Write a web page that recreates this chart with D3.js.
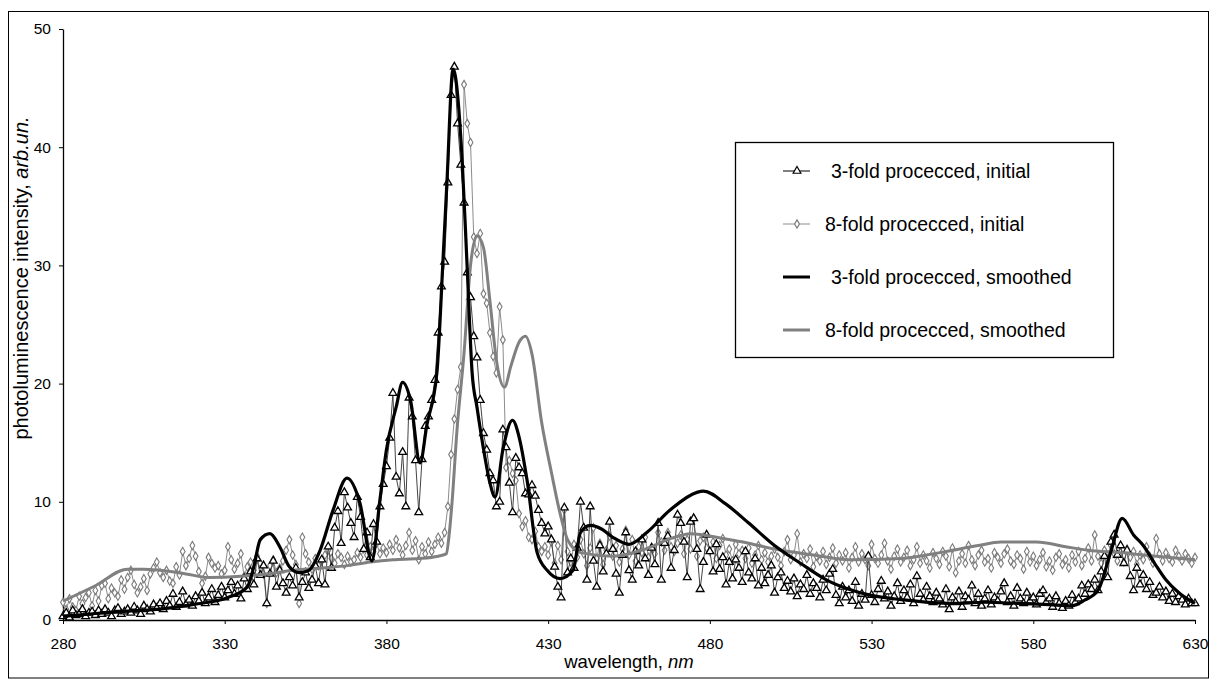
<!DOCTYPE html>
<html>
<head>
<meta charset="utf-8">
<script src="https://cdn.jsdelivr.net/npm/d3@7"></script>
<style>
  body { margin: 0; background: #fff; }
  svg { display: block; font-family: "Liberation Sans", Arial, sans-serif; }
</style>
</head>
<body>
<svg id="chart" width="1210" height="679"></svg>
<script>
// sampling of the raw spectra: one point per nm
const initStart = 280;
const initStep = 1;

// 3-fold processed, initial (280..630 nm)
const threeInitial = [
  0.3, 0.6, 0.2, 0.8, 0.4, 0.5, 0.9, 0.3, 0.6, 0.7,
  0.4, 0.8, 0.5, 0.9, 0.6, 0.3, 0.8, 1.0, 0.5, 0.7,
  0.9, 0.6, 1.1, 0.8, 0.5, 1.2, 0.9, 0.7, 1.3, 1.0,
  1.4, 0.9, 1.6, 1.2, 2.2, 1.1, 1.5, 2.4, 1.3, 1.7,
  1.2, 2.0, 1.6, 2.3, 1.4, 1.9, 2.6, 1.5, 2.1, 2.8,
  1.9, 2.5, 3.2, 2.2, 2.9, 1.8, 3.5, 2.6, 4.1, 3.0,
  5.2, 3.8, 4.6, 1.4, 3.9, 5.0, 2.8, 4.2, 3.1, 2.3,
  3.6, 2.9, 4.4, 1.9, 3.2, 4.0, 2.7, 3.4, 4.6, 3.1,
  5.1, 3.0, 6.2, 4.4, 7.8, 9.2, 6.5, 10.8, 9.5, 8.2,
  7.0, 10.4, 8.7, 6.0, 7.4, 5.3, 8.1, 6.6, 9.6, 11.5,
  13.0, 15.4, 19.2, 12.1, 10.7, 14.2, 9.6, 18.8, 17.2, 13.5,
  9.1, 13.6, 16.4, 17.2, 18.6, 20.3, 24.3, 28.2, 30.3, 37.0,
  44.4, 46.8, 42.0, 38.5, 35.3, 29.4, 27.3, 24.0, 22.2, 18.6,
  15.8, 14.4, 12.4, 11.8, 9.6, 10.0, 16.1, 14.6, 11.6, 9.1,
  13.7, 12.9, 12.4, 10.7, 10.6, 11.4, 10.5, 9.3, 8.2, 7.3,
  7.9, 6.8, 4.5, 2.8, 1.9, 9.5, 4.0, 5.2, 4.4, 6.1,
  10.0, 7.8, 3.4, 9.6, 5.0, 2.8, 6.3, 4.1, 5.6, 8.3,
  6.0, 3.9, 2.3, 5.5, 7.4, 4.2, 3.4, 5.8, 4.6, 6.8,
  5.2, 3.8, 6.1, 4.7, 8.2, 3.4, 6.5, 7.1, 4.4, 5.9,
  8.9, 8.2, 6.6, 3.6, 8.3, 8.6, 6.0, 2.6, 4.9, 7.2,
  5.8, 4.1, 6.4, 4.3, 5.3, 3.0, 4.9, 3.5, 5.1, 4.4,
  3.2, 5.8, 4.0, 3.5, 5.2, 2.9, 4.4, 3.1, 3.8, 4.6,
  2.3, 3.6, 4.0, 2.7, 3.3, 2.4, 3.5, 2.0, 3.0, 2.6,
  3.8, 2.2, 3.1, 2.7, 1.9, 3.4, 2.5, 3.9, 4.3, 2.1,
  1.4, 2.8, 1.9, 2.5, 1.6, 3.2, 1.2, 2.2, 1.7, 5.4,
  2.1, 1.5, 2.6, 3.3, 1.8, 2.4, 1.2, 2.0, 3.1, 1.6,
  2.5, 1.9, 3.0, 1.4, 3.7, 2.2, 1.7, 2.8, 2.0, 1.5,
  2.3, 1.8, 1.3, 2.6, 0.9, 1.9, 1.5, 2.4, 1.1, 2.0,
  1.7, 2.9, 1.4, 2.2, 1.2, 1.8, 2.5, 1.3, 1.9, 1.6,
  2.4, 3.1, 1.5, 2.0, 1.2, 2.7, 1.8, 1.4, 2.3, 1.6,
  1.9, 1.3, 2.2, 2.5, 1.5, 1.8, 1.1, 2.0, 1.4, 1.0,
  1.6, 1.2, 2.1, 1.5, 1.8, 2.9, 2.2, 3.0, 2.6, 3.4,
  2.5, 4.1, 5.4, 3.6, 6.6, 7.2, 5.5, 6.3, 4.8, 5.9,
  3.7, 2.5, 4.4, 3.0, 3.8, 2.6, 3.2, 2.1, 2.3, 2.8,
  1.9, 2.4, 1.6, 2.2, 1.5, 2.0, 1.7, 1.3, 1.8, 1.4,
  1.4
];

// 8-fold processed, initial (280..630 nm)
const eightInitial = [
  1.5, 0.9, 1.8, 1.1, 0.8, 2.0, 1.4, 1.9, 2.3, 1.2,
  2.5, 1.6, 2.9, 3.1, 1.8, 2.7, 2.3, 2.0, 3.4, 2.6,
  3.6, 4.2, 3.0, 2.3, 2.8, 3.5, 2.5, 3.9, 4.4, 4.9,
  4.0, 3.6, 4.2, 3.3, 3.1, 4.5, 3.8, 5.8, 4.6, 5.2,
  6.3, 5.4, 4.1, 3.1, 3.7, 5.3, 4.8, 4.4, 4.6, 3.9,
  4.2, 6.2, 5.1, 4.3, 4.8, 5.6, 3.7, 4.5, 4.9, 4.2,
  5.4, 4.8, 3.9, 1.4, 4.6, 5.1, 4.0, 4.4, 5.0, 5.9,
  6.8, 5.5, 4.7, 1.4, 7.0, 5.6, 4.9, 4.3, 5.2, 4.6,
  5.0, 5.5, 5.9, 5.2, 4.8, 5.6, 5.3, 4.7, 5.4, 4.9,
  5.1, 5.7, 5.3, 6.0, 5.5, 6.2, 5.8, 6.5, 5.6, 6.1,
  5.7, 6.4, 5.9, 6.8, 6.1, 5.5, 6.3, 7.4, 5.9, 6.7,
  5.1, 6.2, 5.6, 6.6, 5.8, 6.4, 7.0, 6.5, 7.4, 9.6,
  14.0, 17.0, 19.5, 21.4, 45.3, 42.0, 40.4, 32.4, 31.0, 32.7,
  27.6, 26.8, 24.3, 22.3, 20.9, 26.5, 23.7, 12.9, 13.5, 12.4,
  11.8, 9.0, 7.9, 8.4, 7.0, 6.8, 7.5, 6.2, 5.8, 6.2,
  5.5, 6.6, 4.8, 6.3, 5.1, 9.3, 5.8, 4.9, 6.4, 5.3,
  6.8, 5.6, 4.6, 6.1, 7.8, 5.2, 6.5, 4.7, 5.9, 7.1,
  5.4, 6.3, 4.9, 6.0, 7.6, 5.5, 6.8, 5.0, 6.2, 5.7,
  7.0, 5.3, 6.1, 5.6, 7.4, 6.6, 5.9, 7.4, 6.2, 5.8,
  6.5, 7.2, 5.6, 6.8, 6.0, 8.6, 5.4, 6.7, 7.0, 6.1,
  5.8, 6.6, 5.2, 6.3, 6.9, 5.5, 6.0, 5.0, 6.4, 5.6,
  5.9, 5.2, 6.1, 4.8, 5.5, 6.3, 5.1, 5.7, 4.9, 5.4,
  6.0, 5.3, 4.6, 5.8, 6.8, 5.1, 5.5, 7.3, 4.9, 5.6,
  5.2, 6.0, 4.5, 5.4, 5.0, 5.8, 4.7, 5.3, 6.1, 4.8,
  5.5, 5.0, 5.7, 4.4, 5.3, 6.2, 4.9, 5.6, 5.1, 4.6,
  6.4, 5.2, 4.8, 5.5, 6.5, 5.0, 4.3, 5.4, 6.0, 4.9,
  5.3, 5.9, 4.6, 5.1, 6.2, 4.8, 5.5, 5.0, 4.4, 5.7,
  5.2, 4.7, 5.8, 5.4, 4.5, 6.1, 4.0, 5.0, 5.6, 4.8,
  6.3, 5.1, 4.6, 5.5, 5.9, 4.9, 5.2, 4.4, 5.7, 5.3,
  4.8, 5.6, 6.0, 5.0, 4.7, 5.5, 5.2, 4.3, 5.8, 4.9,
  5.4, 4.6, 5.1, 5.7, 4.5, 5.0, 4.2, 5.3, 5.6, 4.7,
  5.1, 4.4, 5.5, 4.9, 5.8, 4.6, 5.2, 6.1, 5.0, 7.2,
  5.4, 4.8, 5.9, 5.2, 6.3, 5.6, 5.0, 5.7, 4.9, 6.0,
  5.3, 5.8, 4.7, 5.5, 5.1, 6.2, 5.4, 4.8, 6.9, 5.6,
  5.0, 5.7, 5.2, 4.9, 5.9, 5.4, 5.0, 5.6, 5.2, 4.8,
  5.3
];

// 3-fold processed, smoothed
const threeSmoothNm = [280, 290, 300, 307, 320, 331, 337, 339, 341, 344, 347, 350, 353, 356, 359.5,
  363.5, 367.8, 371.8, 375.5, 378, 380, 383, 385, 387.5, 390.4, 392.5, 395.6, 397.5, 398.7, 400.6,
  403.4, 405, 406.5, 408, 410, 412, 413.6, 416, 419, 421, 423.5, 426.6, 429.7, 433.7, 437.7, 440,
  443, 446.5, 450, 455, 460.5, 467.7, 476, 478, 485, 492, 500, 508, 516, 523, 529.5, 540, 555,
  565, 576, 585, 592, 596, 600, 604, 607.5, 611, 614, 617.5, 621, 625, 630];
const threeSmooth = [0.3, 0.55, 0.75, 0.85, 1.3, 1.9, 2.8, 4.5, 6.8, 7.3, 6.2, 4.5, 4.0, 4.2, 5.9,
  9.3, 12.0, 9.9, 5.0, 10.2, 14.4, 18.0, 20.1, 18.5, 13.3, 16.5, 20.9, 30.5, 37.0, 46.6,
  39.0, 29.6, 20.9, 18.0, 14.5, 11.6, 10.4, 14.4, 16.9, 15.5, 11.8, 5.7, 4.2, 3.5, 4.2, 7.4,
  8.0, 7.7, 7.0, 6.4, 7.4, 9.3, 10.8, 10.9, 9.8, 8.2, 6.3, 4.8, 3.4, 2.6, 2.1, 1.7, 1.4,
  1.5, 1.4, 1.3, 1.2, 1.7, 2.5, 5.8, 8.6, 7.2, 6.3, 4.8, 3.4, 2.3, 1.4];

// 8-fold processed, smoothed
const eightSmoothNm = [280, 290, 300, 305, 310, 318, 325, 335, 343, 351, 360, 368, 375, 382, 390,
  396, 397.5, 398.5, 399.5, 400.3, 401.8, 404, 406, 408, 410, 412, 414, 416.5, 418.5, 421, 423,
  425, 428, 431, 433.7, 436, 440, 450, 460, 468, 474, 484, 492, 500, 512, 523, 539, 547, 555,
  563, 570, 581, 590, 597, 607, 618, 630];
const eightSmooth = [1.6, 2.9, 4.3, 4.3, 4.2, 3.9, 3.6, 3.7, 3.9, 4.2, 4.4, 4.6, 4.9, 5.1, 5.2,
  5.4, 5.5, 5.6, 7.5, 10.0, 16.0, 22.6, 30.0, 32.5, 31.5, 27.0, 22.0, 19.7, 21.5, 23.5, 24.0,
  22.5, 16.7, 12.5, 9.0, 6.8, 5.7, 5.4, 6.0, 6.9, 7.3, 6.9, 6.5, 6.0, 5.5, 5.1, 5.2, 5.5, 5.9,
  6.3, 6.6, 6.6, 6.2, 5.9, 5.7, 5.4, 5.1];

const xTicks = [280, 330, 380, 430, 480, 530, 580, 630];
const yTicks = [0, 10, 20, 30, 40, 50];

const legendLabels = [
  "3-fold procecced, initial",
  "8-fold procecced, initial",
  "3-fold procecced, smoothed",
  "8-fold procecced, smoothed"
];

const svg = d3.select("#chart");
const width = 1210, height = 679;
const margin = { top: 29, right: 15, bottom: 59, left: 63 };

// outer frame
svg.append("rect")
  .attr("x", 8.5).attr("y", 11.5)
  .attr("width", width - 10).attr("height", height - 12.5)
  .attr("fill", "none").attr("stroke", "#000");

const x = d3.scaleLinear()
  .domain([280, 630])
  .range([margin.left, width - margin.right]);

const y = d3.scaleLinear()
  .domain([0, 50])
  .range([height - margin.bottom, margin.top]);

const toPoints = (vals, start, step) => vals.map((v, i) => ({ nm: start + i * step, v }));
const pair = (nms, vals) => nms.map((nm, i) => ({ nm, v: vals[i] }));

const threeInitPts = toPoints(threeInitial, initStart, initStep);
const eightInitPts = toPoints(eightInitial, initStart, initStep);

const line = d3.line().x(d => x(d.nm)).y(d => y(d.v));
const smoothLine = d3.line().x(d => x(d.nm)).y(d => y(d.v)).curve(d3.curveMonotoneX);

// axes
const xAxis = svg.append("g")
  .attr("transform", `translate(0,${y(0)})`)
  .call(d3.axisBottom(x).tickValues(xTicks).tickSize(4).tickSizeOuter(0).tickPadding(14));
const yAxis = svg.append("g")
  .attr("transform", `translate(${x(280)},0)`)
  .call(d3.axisLeft(y).tickValues(yTicks).tickSize(4).tickSizeOuter(0).tickPadding(8));

[xAxis, yAxis].forEach(g => {
  g.selectAll("text").attr("font-size", 15.5).attr("fill", "#000")
    .attr("font-family", "Liberation Sans, Arial, sans-serif");
  g.selectAll("line").attr("stroke", "#000");
  g.select(".domain").attr("stroke", "#000").attr("stroke-width", 1.3);
});

// 8-fold initial
svg.append("path").datum(eightInitPts)
  .attr("fill", "none").attr("stroke", "#8c8c8c").attr("stroke-width", 1)
  .attr("d", line);
svg.append("g").selectAll("path")
  .data(eightInitPts).join("path")
  .attr("transform", d => `translate(${x(d.nm)},${y(d.v)})`)
  .attr("d", d3.symbol(d3.symbolDiamond, 20)())
  .attr("fill", "#fff").attr("stroke", "#7a7a7a").attr("stroke-width", 1.1);

// 3-fold initial
svg.append("path").datum(threeInitPts)
  .attr("fill", "none").attr("stroke", "#444").attr("stroke-width", 1)
  .attr("d", line);
svg.append("g").selectAll("path")
  .data(threeInitPts).join("path")
  .attr("transform", d => `translate(${x(d.nm)},${y(d.v)})`)
  .attr("d", d3.symbol(d3.symbolTriangle, 26)())
  .attr("fill", "#fff").attr("stroke", "#000").attr("stroke-width", 1.3);

// smoothed curves
svg.append("path").datum(pair(eightSmoothNm, eightSmooth))
  .attr("fill", "none").attr("stroke", "#808080").attr("stroke-width", 3)
  .attr("d", smoothLine);
svg.append("path").datum(pair(threeSmoothNm, threeSmooth))
  .attr("fill", "none").attr("stroke", "#000").attr("stroke-width", 3.2)
  .attr("d", smoothLine);

// axis titles
const xt = svg.append("text")
  .attr("x", (x(280) + x(630)) / 2).attr("y", 668)
  .attr("text-anchor", "middle").attr("font-size", 18.5);
xt.append("tspan").text("wavelength, ");
xt.append("tspan").attr("font-style", "italic").text("nm");

const yt = svg.append("text")
  .attr("transform", "translate(28,278) rotate(-90)")
  .attr("text-anchor", "middle").attr("font-size", 20);
yt.append("tspan").text("photoluminescence intensity, ");
yt.append("tspan").attr("font-style", "italic").text("arb.un.");

// legend
const lg = svg.append("g").attr("transform", "translate(735,142)");
lg.append("rect")
  .attr("x", 0.5).attr("y", 0.5).attr("width", 378).attr("height", 215)
  .attr("fill", "#fff").attr("stroke", "#000").attr("stroke-width", 1.3);

const legendStyles = [
  { stroke: "#000", w: 1, sym: d3.symbolTriangle, size: 26, mstroke: "#000" },
  { stroke: "#8c8c8c", w: 1, sym: d3.symbolDiamond, size: 20, mstroke: "#7a7a7a" },
  { stroke: "#000", w: 3, sym: null },
  { stroke: "#808080", w: 3, sym: null }
];
const rowY = d3.scalePoint().domain(d3.range(legendLabels.length)).range([29, 188]);

legendLabels.forEach((label, i) => {
  const s = legendStyles[i];
  const row = lg.append("g").attr("transform", `translate(0,${rowY(i)})`);
  row.append("line").attr("x1", 48).attr("x2", 75)
    .attr("stroke", s.stroke).attr("stroke-width", s.w);
  if (s.sym) {
    row.append("path").attr("transform", "translate(62,0)")
      .attr("d", d3.symbol(s.sym, s.size)())
      .attr("fill", "#fff").attr("stroke", s.mstroke).attr("stroke-width", 1.2);
  }
  row.append("text").attr("x", i % 2 === 0 ? 96 : 90).attr("y", 7)
    .attr("font-size", 19.5).text(label);
});
</script>
</body>
</html>
